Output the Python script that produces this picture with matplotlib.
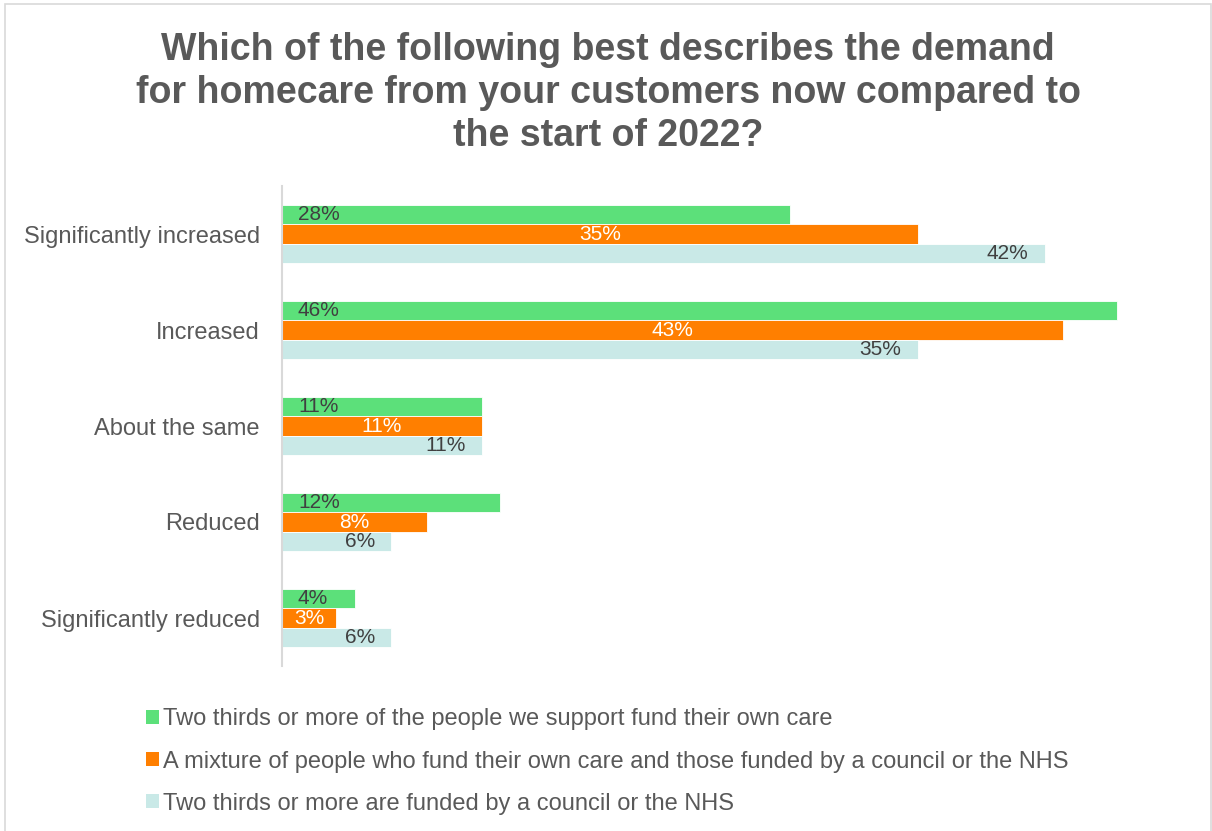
import numpy as np
import matplotlib.pyplot as plt
from matplotlib.patches import Patch, Rectangle

plt.rcParams['font.family'] = ['Liberation Sans', 'DejaVu Sans']

categories = ["Significantly increased", "Increased", "About the same",
              "Reduced", "Significantly reduced"]
self_funded = [28, 46, 11, 12, 4]
mixed = [35, 43, 11, 8, 3]
council_nhs = [42, 35, 11, 6, 6]
series_names = [
    "Two thirds or more of the people we support fund their own care",
    "A mixture of people who fund their own care and those funded by a council or the NHS",
    "Two thirds or more are funded by a council or the NHS",
]
colors = ["#5CE07A", "#FF7F00", "#C9E9E7"]
grey = "#595959"
dark = "#404040"

W, H = 1212, 831
fig = plt.figure(figsize=(W / 100, H / 100), dpi=100)

# outer chart border
fig.patches.append(Rectangle((5 / W, -0.01), (1211 - 5) / W, (H - 4) / H + 0.01,
                             transform=fig.transFigure, fill=False,
                             edgecolor="#D9D9D9", linewidth=1.2))

fig.text(608 / W, 1 - 93 / H,
         "Which of the following best describes the demand\n"
         "for homecare from your customers now compared to\n"
         "the start of 2022?",
         ha="center", va="center", fontsize=27, fontweight="bold",
         color=grey, linespacing=1.25)

ax = fig.add_axes([282 / W, (H - 666) / H, (1190 - 282) / W, 480 / H])
y = np.arange(len(categories))
bh = 0.203

bars_g = ax.barh(y - bh, self_funded, height=bh, color=colors[0], edgecolor="white", linewidth=0.6)
bars_o = ax.barh(y, mixed, height=bh, color=colors[1], edgecolor="white", linewidth=0.6)
bars_c = ax.barh(y + bh, council_nhs, height=bh, color=colors[2], edgecolor="white", linewidth=0.6)

# green labels sit near the base, orange centred, pale ones at the bar end
for rect, v in zip(bars_g, self_funded):
    ax.annotate(f"{v}%", (0, rect.get_y() + rect.get_height() / 2),
                xytext=(16, 0), textcoords="offset pixels",
                ha="left", va="center", fontsize=15, color=dark)
ax.bar_label(bars_o, labels=[f"{v}%" for v in mixed], label_type="center",
             fontsize=15, color="white")
for rect, v in zip(bars_c, council_nhs):
    ax.annotate(f"{v}%", (rect.get_width(), rect.get_y() + rect.get_height() / 2),
                xytext=(-16, 0), textcoords="offset pixels",
                ha="right", va="center", fontsize=15, color=dark)

ax.set_xlim(0, 50)
ax.set_ylim(len(categories) - 0.5, -0.5)
ax.set_yticks(y)
ax.set_yticklabels(categories, fontsize=17, color=grey)
ax.tick_params(axis="y", length=0, pad=16)
ax.set_xticks([])
for s in ["top", "right", "bottom"]:
    ax.spines[s].set_visible(False)
ax.spines["left"].set_color("#D9D9D9")
ax.spines["left"].set_linewidth(1.5)

handles = [Patch(facecolor=c, edgecolor="none") for c in colors]
fig.legend(handles, series_names, loc="upper left",
           bbox_to_anchor=(137 / W, 1 - 699 / H), frameon=False,
           fontsize=17, labelcolor=grey, handlelength=0.55, handleheight=0.55,
           handletextpad=0.17, labelspacing=0.85, borderaxespad=0)

fig.savefig("out.png", dpi=100)
